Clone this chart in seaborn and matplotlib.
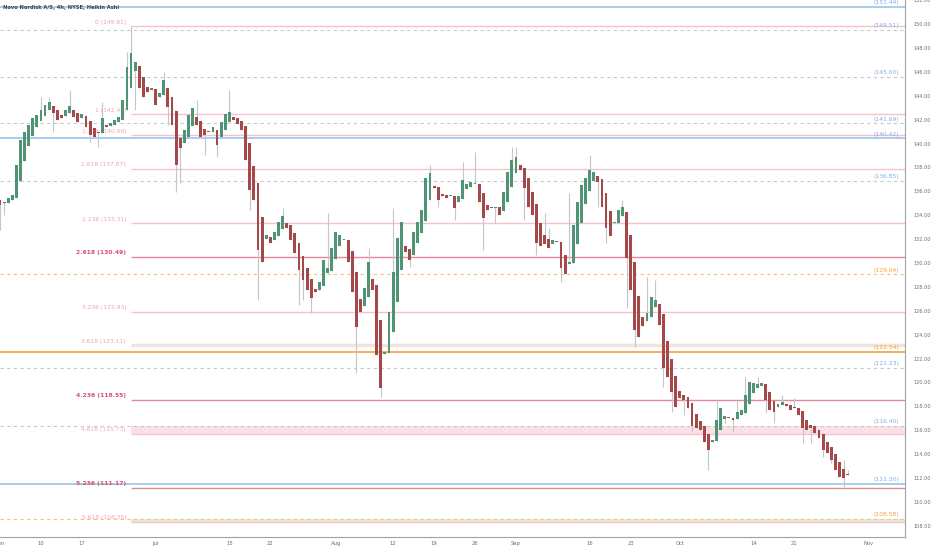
import numpy as np
import pandas as pd
import matplotlib
matplotlib.use('Agg')
import matplotlib.pyplot as plt
import seaborn as sns

# Heikin Ashi closes, one per 4h bar (2 bars per trading day), Jun 3 - Oct 29
ha_close = [
    134.85, 135.02, 135.44, 135.69, 138.20, 140.29, 140.96, 141.55, 142.13, 142.38,
    142.80, 143.22, 143.47, 142.55, 141.97, 142.13, 142.80, 143.14, 142.22, 141.80,
    142.47, 141.38, 140.71, 140.54, 140.88, 142.13, 141.38, 141.72, 141.97, 142.22,
    143.64, 146.40, 147.57, 146.82, 144.64, 143.89, 144.31, 144.64, 143.22, 144.23,
    145.31, 143.05, 141.55, 138.20, 139.62, 141.13, 142.38, 142.97, 141.55, 140.54,
    140.71, 140.96, 141.38, 139.87, 141.80, 142.47, 142.64, 141.97, 141.63, 141.13,
    138.62, 136.11, 135.27, 131.09, 130.08, 132.34, 131.67, 132.59, 133.43, 133.93,
    132.93, 131.92, 130.84, 129.41, 128.58, 127.74, 127.07, 127.57, 128.41, 130.25,
    129.58, 131.26, 132.59, 132.34, 131.92, 130.08, 127.57, 124.64, 125.90, 127.91,
    130.08, 127.74, 122.30, 119.54, 122.55, 125.90, 129.25, 132.09, 133.43, 130.92,
    130.25, 132.59, 133.43, 134.43, 137.11, 137.53, 136.28, 135.27, 135.61, 135.44,
    135.61, 134.60, 135.61, 136.95, 136.61, 136.78, 136.69, 135.10, 133.77, 134.43,
    134.60, 134.69, 134.02, 135.94, 137.62, 138.62, 138.87, 137.78, 136.28, 134.69,
    134.02, 131.67, 131.42, 131.59, 131.26, 131.92, 131.76, 129.58, 129.08, 130.08,
    133.18, 135.10, 136.53, 137.11, 137.78, 137.62, 136.78, 134.69, 132.93, 132.26,
    133.43, 134.43, 134.69, 130.42, 127.74, 124.39, 123.81, 124.73, 125.82, 127.15,
    126.90, 124.81, 121.21, 120.46, 119.20, 117.95, 118.70, 118.54, 117.87, 116.36,
    116.19, 116.02, 115.02, 114.35, 115.19, 116.86, 117.87, 117.20, 117.03, 116.86,
    117.53, 117.70, 118.95, 120.04, 119.96, 119.87, 119.96, 118.54, 117.70, 117.53,
    118.20, 118.37, 118.03, 117.70, 117.87, 117.28, 116.19, 116.02, 116.19, 115.77,
    115.36, 114.35, 114.10, 113.51, 112.68, 112.09, 112.01, 112.26,
]
first_open = 135.30

# visible long wicks (bar index -> price)
wick_high = {
    10: 143.89, 12: 143.89, 17: 144.48, 25: 143.47, 31: 147.66, 32: 149.81,
    40: 145.98, 48: 143.64, 56: 144.48, 69: 134.60, 80: 134.18, 90: 131.26,
    96: 134.60, 103: 134.02, 105: 138.20, 113: 138.45, 116: 139.29, 125: 139.71,
    126: 139.71, 133: 134.18, 134: 132.93, 139: 135.86, 144: 139.04, 152: 135.27,
    158: 128.83, 160: 128.58, 175: 118.54, 180: 118.54, 182: 120.46, 185: 120.46,
    191: 118.95, 194: 118.70, 206: 113.51, 207: 112.68,
}
wick_low = {
    0: 132.76, 1: 134.02, 13: 140.96, 22: 140.13, 24: 139.71, 33: 142.80,
    41: 141.55, 43: 135.94, 44: 136.69, 50: 139.04, 53: 138.87, 61: 134.44,
    63: 126.91, 73: 126.49, 74: 126.91, 76: 125.82, 87: 120.79, 93: 118.79,
    100: 129.67, 107: 134.69, 111: 133.60, 118: 131.09, 121: 133.35, 128: 133.60,
    131: 130.67, 137: 128.41, 146: 134.69, 148: 131.67, 153: 126.24, 155: 122.97,
    162: 119.62, 164: 117.53, 167: 117.28, 169: 115.86, 172: 115.19, 173: 112.68,
    177: 116.61, 179: 115.86, 187: 117.45, 189: 116.61, 196: 114.94, 198: 114.94,
    201: 113.76, 203: 113.26, 206: 111.25,
}

# trading-day index of each date label
tick_days = [0, 5, 10, 19, 28, 33, 41, 48, 53, 58, 63, 72, 77, 83, 92, 97, 106]
tick_labels = ['Jun', '10', '17', 'Jul', '15', '22', 'Aug', '12', '19', '26',
               'Sep', '16', '23', 'Oct', '14', '21', 'Nov']

# fib extension levels
fib_ratios = ['0', '1', '1.236', '1.618', '2.236', '2.618', '3.236', '3.618',
              '4.236', '4.618', '5.236', '5.618']
fib_prices = [149.81, 142.43, 140.69, 137.87, 133.31, 130.49, 125.93, 123.11,
              118.55, 115.73, 111.17, 108.35]
fib_strong = ['2.618', '4.236', '5.236']
fib_start_bar = 32

# horizontal levels
blue_solid = [151.44, 140.42, 111.50]
blue_dashed = [149.51, 145.60, 141.69, 136.85, 121.23, 116.40]
orange_solid = [122.54]
orange_dashed = [129.04, 108.58]

GREEN = '#4f9474'
RED = '#a5484a'
WICK = '#c4c6cc'
BLUE_TXT = '#7fb0e8'
ORANGE = '#f2a23c'
PINK = '#f6c3cd'
PINK_DARK = '#e6879e'
PINK_TXT = '#f1a3b3'
PINK_TXT_DARK = '#d9506f'

# build HA open/high/low
opens = [first_open]
for i in range(1, len(ha_close)):
    opens.append((opens[-1] + ha_close[i - 1]) / 2)

df = pd.DataFrame({'bar': np.arange(len(ha_close)), 'open': opens, 'close': ha_close})
df['top'] = df[['open', 'close']].max(axis=1)
df['bot'] = df[['open', 'close']].min(axis=1)
df['high'] = [max(t, wick_high.get(i, t)) for i, t in zip(df['bar'], df['top'])]
df['low'] = [min(b, wick_low.get(i, b)) for i, b in zip(df['bar'], df['bot'])]
df['color'] = np.where(df['close'] >= df['open'], GREEN, RED)

sns.set_theme(style='white')
plt.rcParams['font.family'] = ['DejaVu Sans']

fig = plt.figure(figsize=(9.32, 5.5), dpi=100)
ax = fig.add_axes([0, 13 / 550, 905 / 932, 537 / 550])

x_lo, x_hi = 0.24, 221.0
ax.set_xlim(x_lo, x_hi)
ax.set_ylim(107.07, 152.01)

# full-width levels
for p in blue_solid:
    ax.axhline(p, color='#9cc5ea', lw=1.2, zorder=1)
for p in blue_dashed:
    ax.axhline(p, color='#c3cad6', lw=0.8, ls=(0, (3, 3)), zorder=1)
for p in orange_solid:
    ax.axhline(p, color=ORANGE, lw=1.2, zorder=1)
for p in orange_dashed:
    ax.axhline(p, color='#f6c37c', lw=0.8, ls=(0, (3, 3)), zorder=1)

# fib extension lines and labels
for r, p in zip(fib_ratios, fib_prices):
    strong = r in fib_strong
    col = PINK_DARK if strong else PINK
    lw = 1.0
    if r == '3.618':
        col, lw = '#f0e4dc', 2.5
    if r == '5.236':
        col = '#d98f8c'
    ax.hlines(p, fib_start_bar, x_hi, color=col, lw=lw, zorder=1)
    ax.annotate(f'{r} ({p:.2f})', xy=(fib_start_bar, p), xytext=(-3.5, 1.2),
                textcoords='offset points', ha='right', va='bottom',
                fontsize=4.3, color=PINK_TXT_DARK if strong else PINK_TXT,
                fontweight='bold' if strong else 'normal', zorder=1)
ax.fill_between([fib_start_bar, x_hi], 115.73, 116.40, color='#fbe0e5', lw=0, zorder=0.5)
ax.fill_between([fib_start_bar, x_hi], 108.35, 108.58, color='#e4ecd5', lw=0, zorder=0.5)

# right-hand price labels
for p in blue_solid + blue_dashed:
    ax.annotate(f'({p:.2f})', xy=(1, p), xycoords=('axes fraction', 'data'),
                xytext=(-4, 1.2), textcoords='offset points', ha='right', va='bottom',
                fontsize=4.3, color=BLUE_TXT, zorder=1)
for p in orange_solid + orange_dashed:
    ax.annotate(f'({p:.2f})', xy=(1, p), xycoords=('axes fraction', 'data'),
                xytext=(-4, 1.2), textcoords='offset points', ha='right', va='bottom',
                fontsize=4.3, color=ORANGE, zorder=1)

# candles
ax.vlines(df['bar'], df['low'], df['high'], color=WICK, lw=0.8, zorder=2)
heights = np.maximum(df['top'] - df['bot'], 0.09)
ax.bar(df['bar'], heights, bottom=df['bot'], width=0.7, color=df['color'],
       linewidth=0, zorder=3)

# axes styling
ax.yaxis.tick_right()
ax.set_yticks(np.arange(108, 153, 2))
ax.set_yticklabels([f'{v:.2f}' for v in np.arange(108, 153, 2)])
ax.set_xticks([2 * d for d in tick_days])
ax.set_xticklabels(tick_labels)
ax.tick_params(axis='y', length=0, pad=6, labelsize=3.6, labelcolor='#6b6e78')
ax.tick_params(axis='x', length=0, pad=3, labelsize=3.8, labelcolor='#6b6e78')
for side in ['left', 'top']:
    ax.spines[side].set_visible(False)
for side in ['right', 'bottom']:
    ax.spines[side].set_color('#9fa2aa')
    ax.spines[side].set_linewidth(0.8)
ax.grid(False)
ax.set_facecolor('white')

fig.text(3 / 932, 1 - 7 / 550, 'Novo Nordisk A/S, 4h, NYSE, Heikin Ashi',
         fontsize=3.7, color='#3f424c', va='center', fontweight='semibold')

fig.savefig('out.png', dpi=100, facecolor='white')
